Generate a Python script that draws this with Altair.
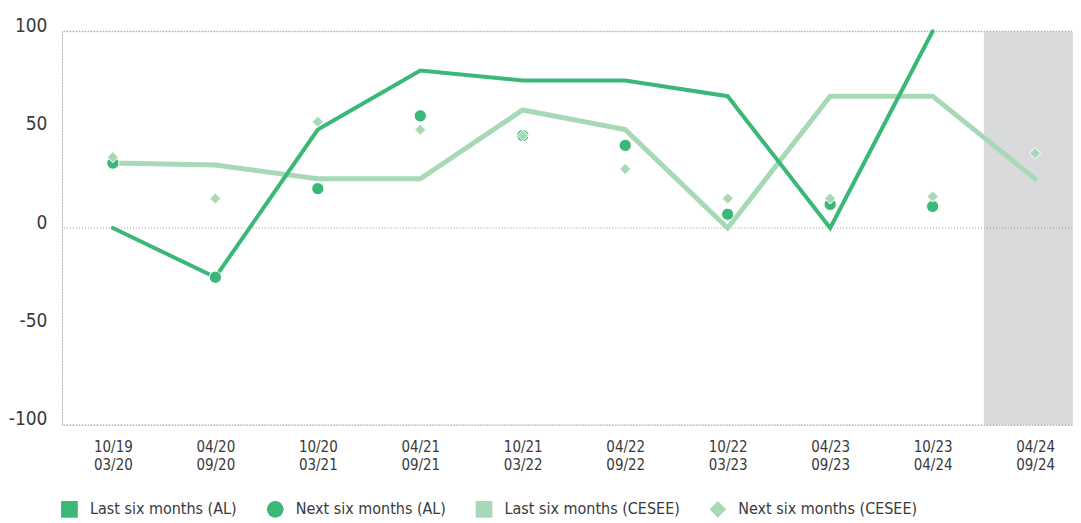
import altair as alt
import pandas as pd

# ---- data ----
period_start = ["10/19", "04/20", "10/20", "04/21", "10/21", "04/22", "10/22", "04/23", "10/23", "04/24"]
period_end = ["03/20", "09/20", "03/21", "09/21", "03/22", "09/22", "03/23", "09/23", "04/24", "09/24"]

last_al = [0, -25, 50, 80, 75, 75, 67, 0, 100, None]
next_al = [33, -25, 20, 57, 47, 42, 7, 12, 11, None]
last_cesee = [33, 32, 25, 25, 60, 50, 0, 67, 67, 25]
next_cesee = [36, 15, 54, 50, 47, 30, 15, 15, 16, 38]

series_names = ["Last six months (AL)", "Next six months (AL)",
                "Last six months (CESEE)", "Next six months (CESEE)"]
series_colors = ["#3bb878", "#3bb878", "#a8d9b7", "#a8d9b7"]
series_shapes = ["square", "circle", "square", "diamond"]

y_ticks = [-100, -50, 0, 50, 100]
grid_values = [100, 0, -100]
shaded_from = "04/24"

# ---- build tables ----
rows = []
for name, vals in zip(series_names, [last_al, next_al, last_cesee, next_cesee]):
    for i, v in enumerate(vals):
        if v is not None:
            rows.append({"series": name, "idx": i, "value": v})
df = pd.DataFrame(rows)

x_min = -0.497
x_max = 9.36
shade_start = period_start.index(shaded_from) - 0.5
shade_df = pd.DataFrame({"x": [shade_start], "x2": [x_max], "y": [-100], "y2": [100]})
grid_df = pd.DataFrame({"g": grid_values})

label_arr = "[" + ",".join("['%s','%s']" % (a, b) for a, b in zip(period_start, period_end)) + "]"

FONT = "DejaVu Sans Condensed, Liberation Sans Narrow, Liberation Sans, sans-serif"
TXT = "#3a3a3a"
W, H = 1011, 394

xscale = alt.Scale(domain=[x_min, x_max], nice=False, zero=False)
yscale = alt.Scale(domain=[-100, 100], nice=False)

x_enc = alt.X("idx:Q", scale=xscale, title=None,
              axis=alt.Axis(values=list(range(len(period_start))), grid=False, domain=False,
                            ticks=False, labelExpr=label_arr + "[datum.value]",
                            labelFont=FONT, labelFontSize=15, labelColor=TXT,
                            labelPadding=15, labelLineHeight=18))
y_enc = alt.Y("value:Q", scale=yscale, title=None,
              axis=alt.Axis(values=y_ticks, grid=False, ticks=False,
                            domainColor="#9a9a9a", domainDash=[1, 2], domainWidth=1,
                            labelExpr="'' + datum.value",
                            labelFont=FONT, labelFontSize=19, labelColor=TXT,
                            labelBaseline="alphabetic", labelPadding=15))

shade = alt.Chart(shade_df).mark_rect(color="#d9dadc").encode(
    x=alt.X("x:Q", scale=xscale), x2="x2:Q",
    y=alt.Y("y:Q", scale=yscale), y2="y2:Q")

grid = alt.Chart(grid_df).mark_rule(color="#9a9a9a", strokeDash=[1, 2], strokeWidth=1).encode(
    y=alt.Y("g:Q", scale=yscale))

base = alt.Chart(df)

line_cesee = base.transform_filter(alt.datum.series == series_names[2]).mark_line(
    color=series_colors[2], strokeWidth=5, strokeCap="round", strokeJoin="miter").encode(
    x=x_enc, y=y_enc)
line_al = base.transform_filter(alt.datum.series == series_names[0]).mark_line(
    color=series_colors[0], strokeWidth=4, strokeCap="round", strokeJoin="miter").encode(
    x=x_enc, y=y_enc)
pts_al = base.transform_filter(alt.datum.series == series_names[1]).mark_point(
    shape="circle", filled=True, fill=series_colors[1], stroke="white", strokeWidth=1,
    size=150, opacity=1).encode(x=x_enc, y=y_enc)
pts_cesee = base.transform_filter(alt.datum.series == series_names[3]).mark_point(
    shape="diamond", filled=True, fill=series_colors[3], stroke="white", strokeWidth=1,
    size=125, opacity=1).encode(x=x_enc, y=y_enc)

legend = alt.Legend(title=None, orient="none", direction="horizontal",
                    legendX=-1, legendY=H + 76, labelFont=FONT, labelFontSize=16,
                    labelColor=TXT, labelLimit=400, symbolSize=280, symbolOpacity=1,
                    symbolStrokeWidth=0, labelOffset=12, columnPadding=29,
                    symbolType="square")
legend_layer = base.mark_point(filled=True, opacity=0).encode(
    x=x_enc, y=y_enc,
    color=alt.Color("series:N", scale=alt.Scale(domain=series_names, range=series_colors),
                    legend=legend, sort=series_names),
    shape=alt.Shape("series:N", scale=alt.Scale(domain=series_names, range=series_shapes),
                    legend=legend, sort=series_names))

chart = alt.layer(shade, grid, line_cesee, line_al, pts_al, pts_cesee, legend_layer).properties(
    width=W, height=H, padding={"left": 0, "top": 8, "right": 0, "bottom": 5}
).configure_view(stroke=None).configure(background="white")

chart.save("out.html", embed_options={"renderer": "svg", "actions": False})
